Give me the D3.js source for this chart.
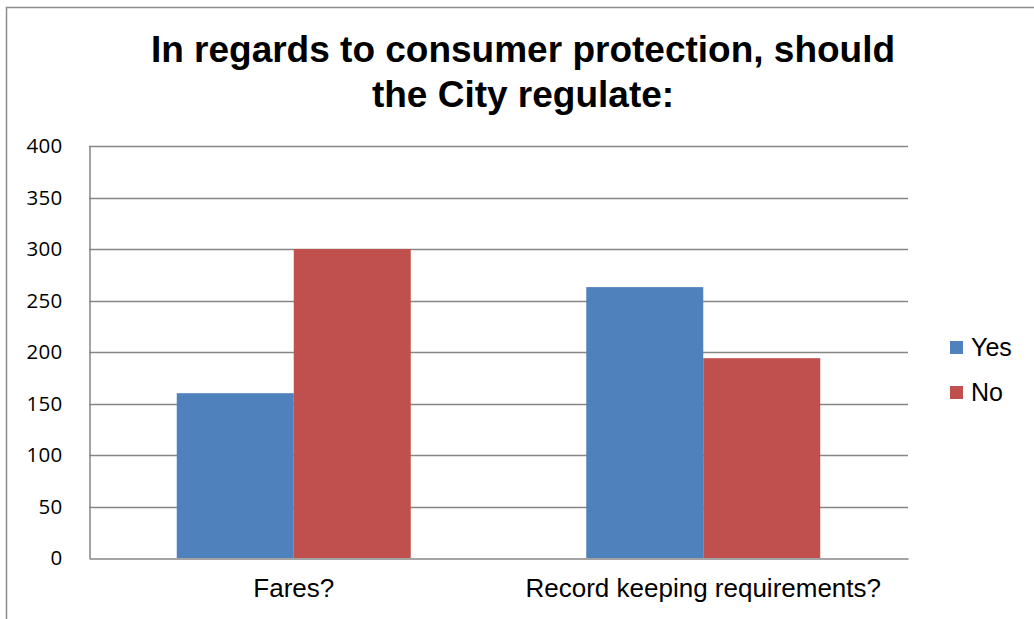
<!DOCTYPE html>
<html>
<head>
<meta charset="utf-8">
<script src="https://cdn.jsdelivr.net/npm/d3@7"></script>
<style>
  html, body { margin: 0; padding: 0; background: #fff; }
  svg { display: block; }
</style>
</head>
<body>
<div id="chart"></div>
<script>
// Survey answers per question
const categories = ["Fares?", "Record keeping requirements?"];
const seriesNames = ["Yes", "No"];
const yesValues = [160, 263];
const noValues = [300, 194];
const yTicks = [0, 50, 100, 150, 200, 250, 300, 350, 400];
const titleLines = ["In regards to consumer protection, should", "the City regulate:"];

const colors = { Yes: "#4F81BD", No: "#C0504D" };
const W = 1034, H = 619;
const plot = { left: 89, right: 908, top: 146, bottom: 558 };

const rows = categories.map((c, i) => ({ category: c, Yes: yesValues[i], No: noValues[i] }));

const svg = d3.select("#chart").append("svg")
  .attr("width", W).attr("height", H);

// Chart frame
svg.append("path")
  .attr("d", `M6.5,${H} V7.5 H${W}`)
  .attr("fill", "none").attr("stroke", "#8c8c8c").attr("stroke-width", 1.5);

// Title
svg.append("text")
  .attr("x", 523).attr("y", 62)
  .attr("text-anchor", "middle")
  .attr("font-family", "'Liberation Sans', Arial, sans-serif")
  .attr("font-weight", "bold").attr("font-size", 37)
  .attr("fill", "#000")
  .selectAll("tspan").data(titleLines).join("tspan")
  .attr("x", 523).attr("dy", (d, i) => i === 0 ? 0 : 45)
  .text(d => d);

const y = d3.scaleLinear().domain([0, 400]).range([plot.bottom, plot.top]);

const x0 = d3.scaleBand().domain(categories)
  .range([plot.left, plot.right])
  .paddingInner(0.4286).paddingOuter(0.2143);
const x1 = d3.scaleBand().domain(seriesNames).range([0, x0.bandwidth()]);

// Horizontal gridlines
svg.append("g")
  .selectAll("line").data(yTicks.filter(t => t > 0)).join("line")
  .attr("x1", plot.left).attr("x2", plot.right)
  .attr("y1", d => Math.round(y(d)) + 0.5).attr("y2", d => Math.round(y(d)) + 0.5)
  .attr("stroke", "#868686").attr("stroke-width", 1.5);

// Bars
svg.append("g")
  .selectAll("g").data(rows).join("g")
  .attr("transform", d => `translate(${x0(d.category)},0)`)
  .selectAll("rect").data(d => seriesNames.map(s => ({ s, v: d[s] }))).join("rect")
  .attr("x", d => x1(d.s))
  .attr("width", x1.bandwidth())
  .attr("y", d => y(d.v))
  .attr("height", d => y(0) - y(d.v))
  .attr("fill", d => colors[d.s]);

// Y axis
const yAxis = svg.append("g")
  .attr("transform", `translate(${plot.left + 0.5},0)`)
  .call(d3.axisLeft(y).tickValues(yTicks).tickSize(0).tickPadding(27));
yAxis.select(".domain").attr("stroke", "#868686").attr("stroke-width", 1.5);
yAxis.selectAll("text")
  .attr("font-family", "'Open Sans', 'Noto Sans', sans-serif")
  .attr("font-size", 20.5).attr("letter-spacing", 0.3)
  .attr("fill", "#000");

// X axis
const xAxis = svg.append("g")
  .attr("transform", `translate(0,${plot.bottom + 0.5})`)
  .call(d3.axisBottom(x0).tickSize(0).tickPadding(20));
xAxis.select(".domain").attr("stroke", "#868686").attr("stroke-width", 1.5);
xAxis.selectAll("text")
  .attr("font-family", "'Liberation Sans', Arial, sans-serif")
  .attr("font-size", 26).attr("fill", "#000");

// Legend
const legend = svg.append("g")
  .selectAll("g").data(seriesNames).join("g")
  .attr("transform", (d, i) => `translate(950,${341 + i * 45})`);
legend.append("rect")
  .attr("width", 13).attr("height", 13)
  .attr("fill", d => colors[d]);
legend.append("text")
  .attr("x", 21).attr("y", 15)
  .attr("font-family", "'Liberation Sans', Arial, sans-serif")
  .attr("font-size", 25).attr("fill", "#000")
  .text(d => d);
</script>
</body>
</html>
